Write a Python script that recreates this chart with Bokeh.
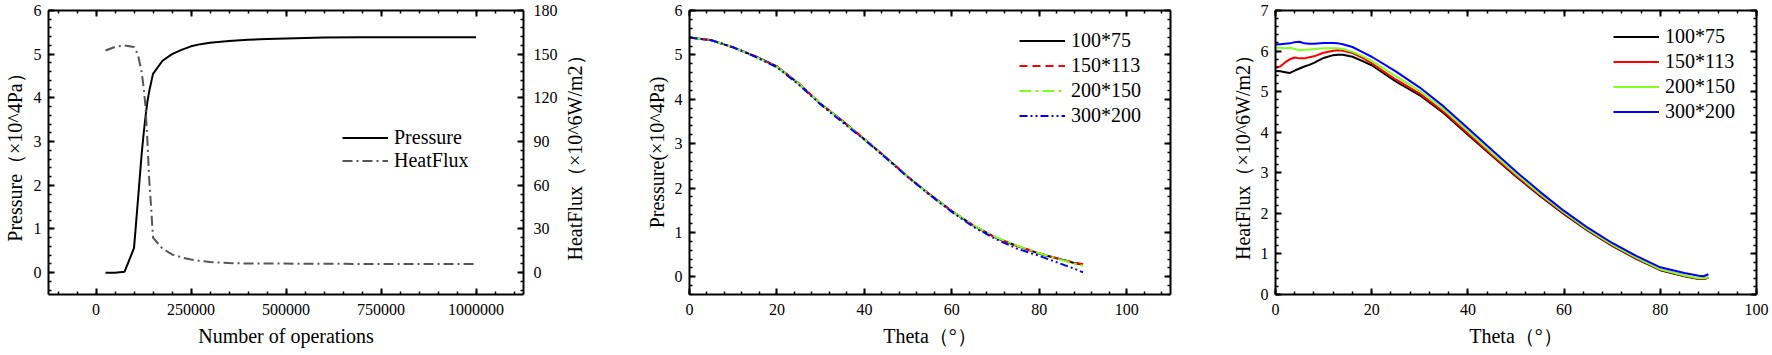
from bokeh.plotting import figure
from bokeh.models import (LinearAxis, Range1d, SingleIntervalTicker, Legend,
                          LegendItem, BasicTickFormatter, Label)
from bokeh.layouts import row
from bokeh.embed import file_html
from bokeh.resources import INLINE

FONT = "Liberation Serif"

# ---------------- data: panel 1 (convergence history) ----------------
ops = [25000, 50000, 75000, 100000, 110000, 120000, 125000, 130000, 135000,
       140000, 145000, 150000, 175000, 200000, 225000, 250000, 275000, 300000,
       350000, 400000, 450000, 500000, 600000, 700000, 800000, 900000, 1000000]
pressure_hist = [0.0, 0.0, 0.02, 0.56, 1.62, 2.70, 3.15, 3.55, 3.90,
                 4.15, 4.35, 4.55, 4.85, 5.00, 5.10, 5.18, 5.23, 5.26,
                 5.30, 5.33, 5.35, 5.36, 5.38, 5.39, 5.39, 5.39, 5.39]
heatflux_hist = [152.5, 155.0, 156.0, 155.0, 150.0, 138.0, 128.0, 115.0, 92.0,
                 64.0, 45.0, 24.0, 16.5, 12.5, 10.5, 9.0, 8.0, 7.3,
                 6.6, 6.3, 6.2, 6.2, 6.1, 6.0, 6.0, 6.0, 6.0]

# ---------------- data: panel 2 (pressure vs theta) ----------------
theta_p = [0, 5, 10, 15, 20, 25, 30, 35, 40, 45, 50, 55, 60, 65, 70, 75, 80, 85, 88, 90]
p_100x75 = [5.39, 5.33, 5.17, 4.97, 4.74, 4.35, 3.90, 3.51, 3.10, 2.68, 2.25, 1.85,
            1.48, 1.15, 0.88, 0.69, 0.52, 0.39, 0.31, 0.27]
p_150x113 = [5.39, 5.33, 5.17, 4.97, 4.74, 4.36, 3.90, 3.51, 3.11, 2.68, 2.25, 1.85,
             1.48, 1.15, 0.88, 0.69, 0.53, 0.39, 0.32, 0.28]
p_200x150 = [5.39, 5.33, 5.17, 4.96, 4.73, 4.35, 3.90, 3.50, 3.10, 2.67, 2.25, 1.84,
             1.48, 1.16, 0.89, 0.70, 0.53, 0.38, 0.30, 0.25]
p_300x200 = [5.39, 5.33, 5.17, 4.96, 4.72, 4.33, 3.88, 3.48, 3.09, 2.67, 2.24, 1.84,
             1.46, 1.12, 0.85, 0.63, 0.47, 0.29, 0.18, 0.10]

# ---------------- data: panel 3 (heat flux vs theta) ----------------
theta_h = [0, 1, 2, 3, 4, 5, 6, 7, 8, 10, 12, 13, 14, 16, 18, 20, 25, 30, 35, 40,
           45, 50, 55, 60, 65, 70, 75, 80, 85, 88, 89, 90]
h_100x75 = [5.51, 5.50, 5.48, 5.46, 5.52, 5.57, 5.62, 5.66, 5.71, 5.83, 5.90, 5.91,
            5.91, 5.86, 5.76, 5.65, 5.25, 4.91, 4.47, 3.94, 3.42, 2.91, 2.43, 1.98,
            1.57, 1.20, 0.88, 0.60, 0.45, 0.38, 0.38, 0.41]
h_150x113 = [5.60, 5.62, 5.72, 5.80, 5.84, 5.82, 5.82, 5.85, 5.87, 5.96, 6.01, 6.02,
             6.01, 5.95, 5.84, 5.70, 5.30, 4.95, 4.50, 3.97, 3.44, 2.93, 2.45, 2.00,
             1.58, 1.21, 0.89, 0.61, 0.46, 0.39, 0.39, 0.42]
h_200x150 = [6.08, 6.08, 6.07, 6.08, 6.05, 6.02, 6.03, 6.04, 6.05, 6.07, 6.07, 6.07,
             6.05, 5.98, 5.88, 5.76, 5.38, 5.02, 4.56, 4.03, 3.49, 2.97, 2.48, 2.02,
             1.60, 1.23, 0.91, 0.62, 0.47, 0.40, 0.40, 0.42]
h_300x200 = [6.16, 6.17, 6.18, 6.19, 6.22, 6.23, 6.19, 6.18, 6.18, 6.20, 6.20, 6.19,
             6.17, 6.10, 5.98, 5.86, 5.50, 5.10, 4.63, 4.10, 3.56, 3.03, 2.53, 2.06,
             1.64, 1.27, 0.95, 0.67, 0.53, 0.46, 0.45, 0.50]

grid_labels = ["100*75", "150*113", "200*150", "300*200"]
grid_colors = ["#000000", "#ff0000", "#80ff20", "#0000ff"]
grid_dashes = ["solid", "8 5", "12 4 3 4", "8 3 2 3 2 3"]


def style_axis(ax, interval, labels=True, label_text=None):
    ax.ticker = SingleIntervalTicker(interval=interval, num_minor_ticks=5)
    ax.axis_line_width = 2
    ax.axis_line_color = "black"
    ax.major_tick_in = 6
    ax.major_tick_out = 0
    ax.minor_tick_in = 3
    ax.minor_tick_out = 0
    ax.major_tick_line_width = 2
    ax.minor_tick_line_width = 1.5
    ax.major_tick_line_color = "black"
    ax.minor_tick_line_color = "black"
    ax.major_label_text_font = FONT
    ax.axis_label_text_font = FONT
    ax.axis_label_text_font_size = "20px"
    ax.axis_label_text_font_style = "normal"
    ax.axis_label_text_color = "black"
    if labels:
        ax.major_label_text_font_size = "16px"
        ax.major_label_text_color = "black"
    else:
        # mirrored frame axis: ticks only, labels not drawn
        ax.major_label_text_font_size = "1px"
        ax.major_label_text_color = None
        ax.major_label_standoff = 0
    if label_text is not None:
        ax.axis_label = label_text


def make_fig(width, xr, yr, bl, br):
    p = figure(width=width, height=355, x_range=xr, y_range=yr,
               output_backend="svg", toolbar_location=None,
               min_border_left=bl, min_border_right=br,
               min_border_top=10, min_border_bottom=61)
    p.xaxis.visible = False
    p.yaxis.visible = False
    p.xgrid.visible = False
    p.ygrid.visible = False
    p.outline_line_color = None
    p.background_fill_color = "white"
    p.border_fill_color = "white"
    return p


def add_frame(p, xint, yint, xlabel, ylabel, right_mirror=True, ylab_standoff=5):
    xb = LinearAxis()
    style_axis(xb, xint, True, xlabel)
    xb.major_label_standoff = 9
    xb.axis_label_standoff = 7
    p.add_layout(xb, "below")
    yl = LinearAxis()
    style_axis(yl, yint, True, ylabel)
    yl.major_label_standoff = 7
    yl.axis_label_standoff = ylab_standoff
    p.add_layout(yl, "left")
    xt = LinearAxis()
    style_axis(xt, xint, False)
    p.add_layout(xt, "above")
    if right_mirror:
        yr = LinearAxis()
        style_axis(yr, yint, False)
        p.add_layout(yr, "right")
    return xb


def make_legend(p, items, loc, gh):
    lg = Legend(items=items, location=loc)
    lg.border_line_color = None
    lg.background_fill_alpha = 0
    lg.padding = 0
    lg.margin = 0
    lg.spacing = 0
    lg.glyph_width = 46
    lg.glyph_height = gh
    lg.label_height = gh
    lg.label_standoff = 6
    lg.label_text_font = FONT
    lg.label_text_font_size = "20px"
    lg.label_text_color = "black"
    p.add_layout(lg)


# ---------------- panel 1 ----------------
p1 = make_fig(560, Range1d(-125000, 1125000), Range1d(-0.5, 6), 43, 36)
p1.extra_y_ranges = {"hf": Range1d(-15, 180)}
xb1 = add_frame(p1, 250000, 1, "Number of operations", "Pressure（×10^4Pa）",
                right_mirror=False)
xb1.formatter = BasicTickFormatter(use_scientific=False)
yr1 = LinearAxis(y_range_name="hf")
style_axis(yr1, 30, True)
yr1.major_label_standoff = 10
p1.add_layout(yr1, "right")
r_p = p1.line(ops, pressure_hist, line_color="black", line_width=2)
r_h = p1.line(ops, heatflux_hist, y_range_name="hf", line_color="#555555",
              line_width=2, line_dash="10 4 2 4")
make_legend(p1, [LegendItem(label="Pressure", renderers=[r_p]),
                 LegendItem(label="HeatFlux", renderers=[r_h])], (294, 122), 23)

# narrow strip holding the right-hand axis title (reads bottom-to-top)
p1t = figure(width=40, height=355, x_range=Range1d(0, 1), y_range=Range1d(0, 1),
             output_backend="svg", toolbar_location=None, min_border=0)
p1t.xaxis.visible = False
p1t.yaxis.visible = False
p1t.xgrid.visible = False
p1t.ygrid.visible = False
p1t.outline_line_color = None
p1t.add_layout(Label(x=14, y=34, x_units="screen", y_units="screen",
                     text="HeatFlux（×10^6W/m2）", angle=90, angle_units="deg",
                     text_align="left", text_baseline="middle",
                     text_font=FONT, text_font_size="20px", text_color="black"))

# ---------------- panel 2 ----------------
p2 = make_fig(600, Range1d(0, 110), Range1d(-0.4, 6), 89, 30)
add_frame(p2, 20, 1, "Theta（°）", "Pressure(×10^4Pa)", ylab_standoff=4)
items2 = []
for lab, col, dash, ys in zip(grid_labels, grid_colors, grid_dashes,
                              [p_100x75, p_150x113, p_200x150, p_300x200]):
    r = p2.line(theta_p, ys, line_color=col, line_width=2, line_dash=dash)
    items2.append(LegendItem(label=lab, renderers=[r]))
make_legend(p2, items2, (330, 166), 25)

# ---------------- panel 3 ----------------
p3 = make_fig(572, Range1d(0, 100), Range1d(0, 7), 75, 16)
add_frame(p3, 20, 1, "Theta（°）", "HeatFlux（×10^6W/m2）", ylab_standoff=4)
items3 = []
for lab, col, ys in zip(grid_labels, grid_colors,
                        [h_100x75, h_150x113, h_200x150, h_300x200]):
    r = p3.line(theta_h, ys, line_color=col, line_width=2)
    items3.append(LegendItem(label=lab, renderers=[r]))
make_legend(p3, items3, (338, 170), 25)

layout = row(p1, p1t, p2, p3)
open("out.html", "w").write(file_html(layout, INLINE))
